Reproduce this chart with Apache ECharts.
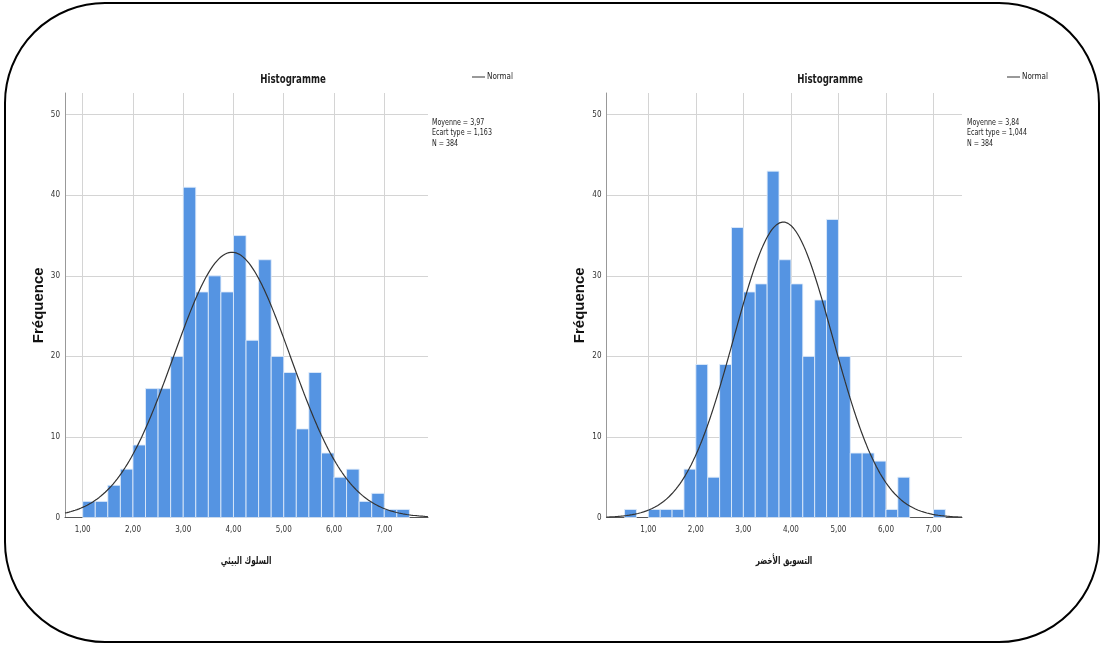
<!DOCTYPE html>
<html>
<head>
<meta charset="utf-8">
<script src="https://cdn.jsdelivr.net/npm/echarts@6/dist/echarts.min.js"></script>
<style>
html,body{margin:0;padding:0;background:#fff;}
#c{width:1103px;height:645px;}
</style>
</head>
<body>
<div id="c"></div>
<script>
// ---- Data ----
const binWidth = 0.25;
// Left histogram: السلوك البيئي
const leftBinStart = 1.00;
const leftCounts = [2,2,4,6,9,16,16,20,41,28,30,28,35,22,32,20,18,11,18,8,5,6,2,3,1,1];
const leftStats = { mean: 3.97, sd: 1.163, n: 384 };
const leftMeanLabel = '3,97', leftSdLabel = '1,163';
// Right histogram: التسويق الأخضر
const rightBinStart = 0.50;
const rightCounts = [1,0,1,1,1,6,19,5,19,36,28,29,43,32,29,20,27,37,20,8,8,7,1,5,0,0,1];
const rightStats = { mean: 3.84, sd: 1.044, n: 384 };
const rightMeanLabel = '3,84', rightSdLabel = '1,044';
const leftXName = 'السلوك البيئي';
const rightXName = 'التسويق الأخضر';
const yName = 'Fréquence';
const titleText = 'Histogramme';
const yTicks = [0,10,20,30,40,50];

// axis extents
const leftX = [0.648, 7.87];
const rightX = [0.12, 7.60];
const yMax = 52.7;

function binsData(start, counts){
  return counts.map((c,i)=>[start+i*binWidth, start+(i+1)*binWidth, c]);
}
function normalData(st, ext){
  const pts=[];
  const k = st.n*binWidth/(st.sd*Math.sqrt(2*Math.PI));
  for(let x=ext[0]; x<=ext[1]+1e-9; x+=0.02){
    const z=(x-st.mean)/st.sd;
    pts.push([x, k*Math.exp(-0.5*z*z)]);
  }
  return pts;
}

const narrow = "'Liberation Sans Narrow','DejaVu Sans Condensed','Liberation Sans',sans-serif";

function xAxis(idx, ext){
  return {
    type:'value', gridIndex: idx, min: ext[0], max: ext[1],
    minInterval:1, maxInterval:1, splitNumber:7,
    axisLine:{ show:true, onZero:false, lineStyle:{ color:'#555', width:1 } },
    axisTick:{ show:false },
    axisLabel:{ showMinLabel:false, showMaxLabel:false, fontFamily:narrow, fontSize:8, color:'#333', margin:8,
      formatter: v => Math.abs(v-Math.round(v))>1e-6 ? '' : v.toFixed(2).replace('.', ',') },
    splitLine:{ show:true, showMinLine:false, showMaxLine:false, lineStyle:{ color:'#d4d4d4', width:1 } }
  };
}
function yAxis(idx){
  return {
    type:'value', gridIndex: idx, min:0, max:yMax, interval:10,
    name: yName, nameLocation:'middle', nameGap: 19, nameRotate: 90,
    nameTextStyle:{ fontFamily:"'Liberation Sans',sans-serif", fontWeight:'bold', fontSize:15, color:'#111' },
    axisLine:{ show:true, lineStyle:{ color:'#999', width:1 } },
    axisTick:{ show:false },
    axisLabel:{ showMaxLabel:false, fontFamily:narrow, fontSize:8, color:'#333', margin:5,
      formatter: v => yTicks.indexOf(Math.round(v))>=0 && Math.abs(v-Math.round(v))<1e-6 ? String(Math.round(v)) : '' },
    splitLine:{ show:true, showMinLine:false, showMaxLine:false, lineStyle:{ color:'#d4d4d4', width:1 } }
  };
}
function barSeries(idx, data){
  return {
    type:'custom', xAxisIndex: idx, yAxisIndex: idx, data: data, z: 2,
    encode:{ x:[0,1], y:2 },
    renderItem:(params, api)=>{
      const x0=api.value(0), x1=api.value(1), y=api.value(2);
      if(!y) return null;
      const p0=api.coord([x0,y]), p1=api.coord([x1,0]);
      return { type:'rect', shape:{ x:p0[0], y:p0[1], width:p1[0]-p0[0], height:p1[1]-p0[1] },
        style:{ fill:'#5594e2', stroke:'rgba(225,236,250,0.85)', lineWidth:1 } };
    }
  };
}
function lineSeries(idx, data){
  return {
    name:'Normal', type:'line', xAxisIndex: idx, yAxisIndex: idx, data: data, z: 3,
    showSymbol:false, symbol:'none', smooth:false, silent:true,
    lineStyle:{ color:'#333', width:1.2 }, itemStyle:{ color:'#333' }
  };
}
function legend(left){
  return { data:['Normal'], left:left, top:73, icon:'rect', itemWidth:13, itemHeight:1, itemGap:2, selectedMode:false,
    textStyle:{ fontFamily:narrow, fontSize:8, color:'#222', padding:[0,0,0,-3] }, padding:0 };
}
function statsText(x, meanL, sdL, n){
  return { type:'text', x:x, y:117, scaleX:0.78, style:{ text:'Moyenne = '+meanL+'\nEcart type = '+sdL+'\nN = '+n,
    font:'9px '+narrow, fill:'#222', lineHeight:10.5, textVerticalAlign:'top' } };
}
function centerText(x, y, text, font, sx){
  return { type:'text', x:x, y:y, scaleX:sx, style:{ text:text, font:font, fill:'#1a1a1a', textAlign:'center', textVerticalAlign:'middle' } };
}

const chart = echarts.init(document.getElementById('c'), null, { renderer:'canvas' });
chart.setOption({
  backgroundColor:'#fff',
  animation:false,
  grid:[
    { left:65, top:93, width:363, height:424.5, outerBoundsMode:'none', containLabel:false },
    { left:606.5, top:93, width:355.5, height:424.5, outerBoundsMode:'none', containLabel:false }
  ],
  legend:[ legend(472), legend(1007) ],
  xAxis:[ xAxis(0, leftX), xAxis(1, rightX) ],
  yAxis:[ yAxis(0), yAxis(1) ],
  series:[
    barSeries(0, binsData(leftBinStart, leftCounts)),
    lineSeries(0, normalData(leftStats, leftX)),
    barSeries(1, binsData(rightBinStart, rightCounts)),
    lineSeries(1, normalData(rightStats, rightX))
  ],
  graphic:[
    { type:'rect', shape:{ x:5, y:3, width:1094, height:639, r:100 }, style:{ fill:'none', stroke:'#000', lineWidth:2 }, silent:true },
    centerText(293, 80, titleText, 'bold 12px '+narrow, 0.8),
    centerText(830, 80, titleText, 'bold 12px '+narrow, 0.8),
    centerText(246, 561, leftXName, "bold 11px 'DejaVu Sans',sans-serif", 0.66),
    centerText(784, 561, rightXName, "bold 11px 'DejaVu Sans',sans-serif", 0.66),
    statsText(432, leftMeanLabel, leftSdLabel, leftStats.n),
    statsText(967, rightMeanLabel, rightSdLabel, rightStats.n)
  ]
});
</script>
</body>
</html>
